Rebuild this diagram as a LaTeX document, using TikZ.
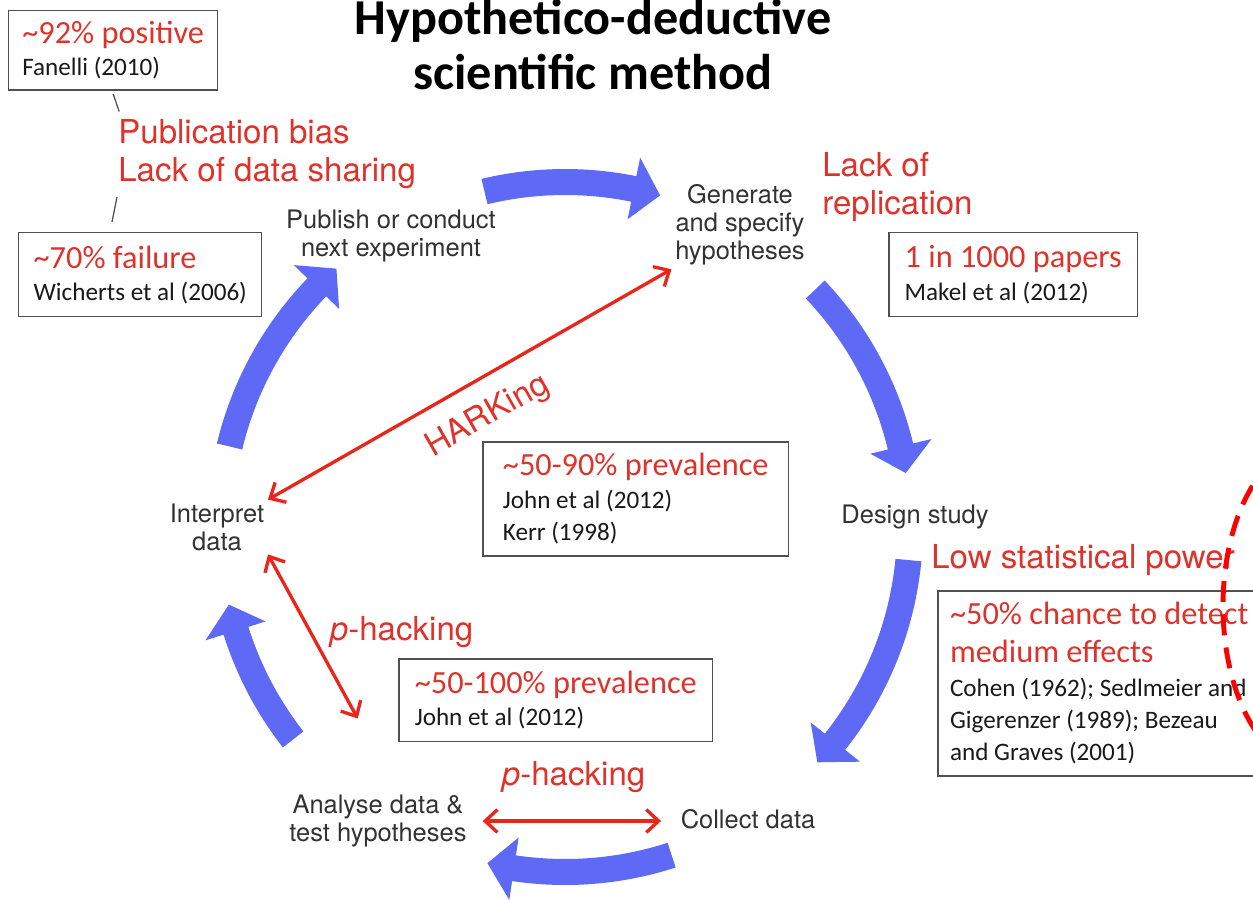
\documentclass[tikz,border=0pt]{standalone}
\usepackage{fontspec}
\setmainfont{Carlito}
\newfontfamily\heros{TeX Gyre Heros}
\usetikzlibrary{arrows.meta,calc}

\definecolor{issuered}{RGB}{223,50,42}
\definecolor{arrowred}{RGB}{232,38,28}
\definecolor{cycleblue}{RGB}{94,106,245}
\definecolor{stagegray}{RGB}{50,50,50}
\definecolor{boxgray}{RGB}{80,80,80}
\newcommand{\hl}[1]{{\color{issuered}\fontsize{18.4}{18.4}\selectfont #1}}

\tikzset{
  stage/.style={font=\heros\fontsize{14.5}{16}\selectfont, text=stagegray, align=center, inner sep=2pt},
  issue/.style={font=\heros\fontsize{18.8}{21.6}\selectfont, text=issuered, align=left, inner sep=2pt},
  refbox/.style={draw=boxgray, line width=0.85pt, align=left, anchor=north west, inner xsep=7pt, inner ysep=3pt, text=black!90, font=\fontsize{14.3}{18.4}\selectfont},
  redarrow/.style={draw=arrowred, line width=1.9pt, {Straight Barb[length=7pt,width=13pt]}-{Straight Barb[length=7pt,width=13pt]}},
  leader/.style={draw=black!70, line width=0.7pt},
}

\begin{document}
\begin{tikzpicture}[x=0.02cm, y=-0.02cm]
\useasboundingbox (0,0) rectangle (1253,899);
\clip (0,0) rectangle (1253,899);

% cycle arrows
\coordinate (c) at (565,527);
\begin{scope}[shift={(c)}, y=0.02cm]
\foreach \a/\b in {103.5/74, 43.5/9, -5.5/-43, -72/-103, -142/-167, 166.5/131.5} {%
    \fill [cycleblue] (\a:358) arc [start angle=\a, end angle=\b+4.5, radius=358]
        -- ({\b+4.5}:377) -- (\b:345) -- ({\b+4.5}:314) -- ({\b+4.5}:332)
        arc [start angle=\b+4.5, end angle=\a, radius=332] -- cycle;
}
\end{scope}

% title
\node [anchor=base, font=\bfseries\fontsize{28.6}{31}\selectfont] (title1) at (593,34) {Hypothetico-deductive};
\node [anchor=base, font=\bfseries\fontsize{28.6}{31}\selectfont] (title2) at (593,89) {scientific method};

% stages
\node [stage] (pub) at (391,236) {Publish or conduct\\next experiment};
\node [stage] (gen) at (740,225) {Generate\\and specify\\hypotheses};
\node [stage] (design) at (915,517) {Design study};
\node [stage] (collect) at (748,819) {Collect data};
\node [stage] (analyse) at (378,821) {Analyse data \&\\test hypotheses};
\node [stage] (interp) at (217,527) {Interpret\\data};

% problems
\node [issue, anchor=west] (pubbias) at (114.5,154) {Publication bias\\Lack of data sharing};
\node [issue, anchor=west] (lackrep) at (818.5,187) {Lack of\\replication};
\node [issue, anchor=west] (lowpower) at (927.5,560) {Low statistical power};

% evidence boxes
\node [refbox, minimum width=118.9pt, minimum height=45pt] (fanelli) at (8,10) {\hl{\textasciitilde92\% positive}\\Fanelli (2010)};
\node [refbox, minimum width=138.3pt, minimum height=47.8pt] (wicherts) at (18,232) {\hl{\textasciitilde70\% failure}\\Wicherts et al (2006)};
\node [refbox, minimum width=141.7pt, minimum height=47.8pt] (makel) at (888,232) {\hl{1 in 1000 papers}\\Makel et al (2012)};
\node [refbox, minimum width=174.1pt, minimum height=64.9pt] (harkbox) at (482,441) {\hl{\textasciitilde50-90\% prevalence}\\John et al (2012)\\Kerr (1998)};
\node [refbox, minimum width=178.7pt, minimum height=47.2pt] (phackbox) at (398,658) {\hl{\textasciitilde50-100\% prevalence}\\John et al (2012)};
\node [refbox, minimum height=105.3pt] (powerbox) at (937,590) {\hl{\textasciitilde50\% chance to detect}\\[3pt]\hl{medium effects}\\[1pt]Cohen (1962); Sedlmeier and\\Gigerenzer (1989); Bezeau\\and Graves (2001)};

\draw [leader] ([yshift=-2pt]fanelli.south) -- ($(fanelli.south)+(6,21)$);
\draw [leader] ($(wicherts.north west)+(99,-35)$) -- ($(wicherts.north west)+(94,-10)$);

% questionable practices
\draw [redarrow] (interp.north east) -- (gen.south west) node [issue, midway, sloped, below=9pt] {HARKing};
\draw [redarrow, shorten >=47pt] (interp.south east) -- ([xshift=11pt]analyse.north) node [issue, pos=0.33, right=8pt] {\textit{p}-hacking};
\draw [redarrow, shorten <=7pt, shorten >=9pt] (analyse.east) -- (collect.west |- analyse.east) node [issue, midway, above=13pt] {\textit{p}-hacking};

\draw [red, line width=2.8pt, dash pattern=on 12pt off 7pt] (1310,606) ellipse [x radius=87, y radius=160];
\end{tikzpicture}
\end{document}
